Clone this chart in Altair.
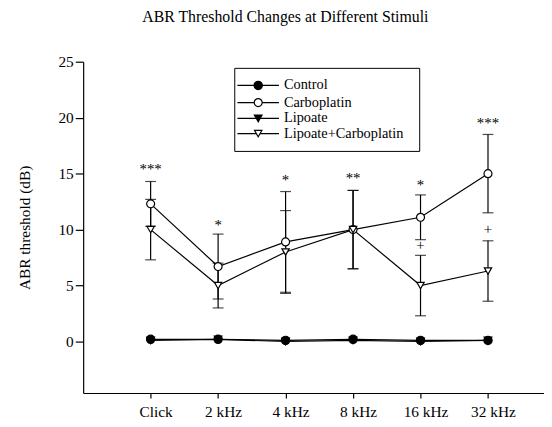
import json
import altair as alt
import pandas as pd

# ---- data ----
stimuli = ["Click", "2 kHz", "4 kHz", "8 kHz", "16 kHz", "32 kHz"]
positions = [1, 2, 3, 4, 5, 6]
series_names = ["Control", "Carboplatin", "Lipoate", "Lipoate+Carboplatin"]

control_mean = [0.2, 0.2, 0.1, 0.2, 0.1, 0.1]
carbo_mean = [12.3, 6.7, 8.9, 10.0, 11.1, 15.0]
carbo_err = [2.0, 2.9, 4.5, 3.5, 2.0, 3.5]
lipoate_mean = [0.1, 0.2, 0.0, 0.1, 0.0, 0.1]
lipcarb_mean = [10.0, 5.0, 8.0, 10.0, 5.0, 6.3]
lipcarb_err = [2.7, 2.0, 3.7, 3.5, 2.7, 2.7]

star_pos = [1, 2, 3, 4, 5, 6]
star_y = [15.6, 10.6, 14.6, 14.8, 14.2, 19.7]
star_text = ["***", "*", "*", "**", "*", "***"]
plus_pos = [5, 6]
plus_y = [8.55, 10.0]
plus_text = ["+", "+"]

title_text = "ABR Threshold Changes at Different Stimuli"
y_title = "ABR threshold (dB)"

# ---- tables ----
rows = []
for name, means, errs in [
    ("Control", control_mean, [0] * 6),
    ("Carboplatin", carbo_mean, carbo_err),
    ("Lipoate", lipoate_mean, [0] * 6),
    ("Lipoate+Carboplatin", lipcarb_mean, lipcarb_err),
]:
    for p, s, m, e in zip(positions, stimuli, means, errs):
        rows.append({"series": name, "pos": p, "stim": s, "mean": m,
                     "lo": m - e, "hi": m + e, "err": e})
df = pd.DataFrame(rows)
err_df = df[df["err"] > 0]
stars = pd.DataFrame({"pos": star_pos, "y": star_y, "t": star_text})
pluses = pd.DataFrame({"pos": plus_pos, "y": plus_y, "t": plus_text})

FONT = "Liberation Serif"
label_expr = json.dumps(["", *stimuli]) + "[datum.value]"

x_scale = alt.Scale(domain=[0, 6.83], nice=False, zero=False)
y_scale = alt.Scale(domain=[-4.6, 25], nice=False, zero=False)
x_axis = alt.Axis(values=positions, labelExpr=label_expr, title=None, grid=False,
                  tickSize=5, labelPadding=7, labelOffset=5, labelFontSize=15.5)
y_axis = alt.Axis(values=[0, 5, 10, 15, 20, 25], title=y_title, grid=False,
                  tickSize=8, labelPadding=2, labelFontSize=15.5,
                  titleFontSize=15.5, titleFontWeight="normal", titleFont=FONT,
                  titleX=-59, titleY=167.5, titleAngle=-90, titleAlign="center",
                  titleBaseline="middle")


def X(field="pos"):
    return alt.X(f"{field}:Q", scale=x_scale, axis=x_axis)


def Y(field):
    return alt.Y(f"{field}:Q", scale=y_scale, axis=y_axis)


shape_scale = alt.Scale(domain=series_names,
                        range=["circle", "circle", "triangle-down", "triangle-down"])
fill_scale = alt.Scale(domain=series_names, range=["black", "white", "black", "white"])
size_scale = alt.Scale(domain=series_names, range=[70, 55, 70, 70])

lines = alt.Chart(df).mark_line(color="black", strokeWidth=1.2).encode(
    x=X(), y=Y("mean"), detail="series:N")

err_rules = alt.Chart(err_df).mark_rule(color="black", strokeWidth=1.2).encode(
    x=X(), y=Y("lo"), y2="hi:Q")
caps_lo = alt.Chart(err_df).mark_tick(color="black", orient="horizontal", size=11,
                                      thickness=1.2).encode(x=X(), y=Y("lo"))
caps_hi = alt.Chart(err_df).mark_tick(color="black", orient="horizontal", size=11,
                                      thickness=1.2).encode(x=X(), y=Y("hi"))

points = alt.Chart(df).mark_point(filled=True, stroke="black", strokeWidth=1.2,
                                  opacity=1).encode(
    x=X(), y=Y("mean"),
    shape=alt.Shape("series:N", scale=shape_scale, legend=None),
    fill=alt.Fill("series:N", scale=fill_scale, legend=None),
    size=alt.Size("series:N", scale=size_scale, legend=None),
)

star_layer = alt.Chart(stars).mark_text(font=FONT, fontSize=15, fill="black",
                                        baseline="alphabetic", dy=7).encode(
    x=X(), y=Y("y"), text="t:N")
plus_layer = alt.Chart(pluses).mark_text(font=FONT, fontSize=15, fill="black",
                                         baseline="alphabetic", dy=4).encode(
    x=X(), y=Y("y"), text="t:N")

one = pd.DataFrame({"k": [0]})

legend_box = alt.Chart(one).mark_rect(fill="white", stroke="black", strokeWidth=1).encode(
    x=alt.value(153.3), x2=alt.value(340.3), y=alt.value(6.7), y2=alt.value(90.7))

legend_layers = [legend_box]
row_y = [24, 41.3, 57.3, 72.7]
for name, yy in zip(series_names, row_y):
    ldf = pd.DataFrame({"series": [name]})
    legend_layers.append(alt.Chart(ldf).mark_rule(color="black", strokeWidth=1.2).encode(
        x=alt.value(156), x2=alt.value(198), y=alt.value(yy)))
    legend_layers.append(alt.Chart(ldf).mark_point(filled=True, stroke="black",
                                                   strokeWidth=1.2, opacity=1).encode(
        x=alt.value(177), y=alt.value(yy),
        shape=alt.Shape("series:N", scale=shape_scale, legend=None),
        fill=alt.Fill("series:N", scale=fill_scale, legend=None),
        size=alt.Size("series:N", scale=size_scale, legend=None)))
    legend_layers.append(alt.Chart(ldf).mark_text(font=FONT, fontSize=14.5, fill="black",
                                                  align="left", baseline="middle").encode(
        x=alt.value(203), y=alt.value(yy), text="series:N"))

title_layer = alt.Chart(one).mark_text(text=title_text, font=FONT, fontSize=16,
                                       fill="black", baseline="middle").encode(
    x=alt.value(204.5), y=alt.value(-45))

chart = alt.layer(
    lines, err_rules, caps_lo, caps_hi, points, star_layer, plus_layer,
    *legend_layers, title_layer,
).properties(
    width=466, height=335,
    padding={"left": 76, "top": 52, "right": 0, "bottom": 28},
    autosize=alt.AutoSizeParams(type="none"),
).configure_view(stroke=None).configure_axis(
    domainColor="black", tickColor="black", labelColor="black", titleColor="black",
    labelFont=FONT, titleFont=FONT, domainWidth=1.2, tickWidth=1.2,
)

chart.save("out.html", embed_options={"renderer": "svg", "actions": False})
